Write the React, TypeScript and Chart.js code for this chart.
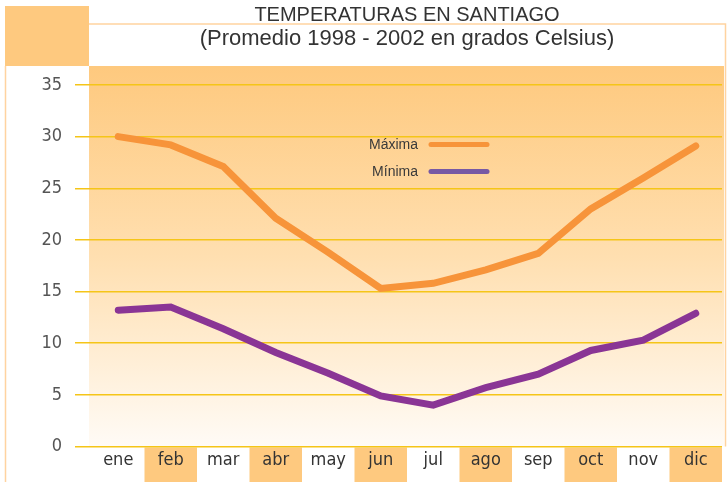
import React, { useEffect, useRef } from "react";
import { Chart, registerables } from "chart.js";

Chart.register(...registerables);

const months = ["ene", "feb", "mar", "abr", "may", "jun", "jul", "ago", "sep", "oct", "nov", "dic"];
const maxima = [30, 29.2, 27.1, 22.1, 18.8, 15.3, 15.8, 17.1, 18.7, 23.0, 26.0, 29.1];
const minima = [13.2, 13.5, 11.4, 9.1, 7.1, 4.9, 4.0, 5.7, 7.0, 9.3, 10.3, 12.9];
const seriesNames = ["Máxima", "Mínima"];
const titleText = "TEMPERATURAS EN SANTIAGO";
const subtitleText = "(Promedio 1998 - 2002 en grados Celsius)";

const ORANGE_FILL = "#FEC97F";
const LINE_MAX = "#F7943A";
const LINE_MIN = "#8A3595";
const LEGEND_MIN = "#7759A4";
const GRID = "#F5C518";
const NARROW = '"Liberation Sans Narrow", "DejaVu Sans Condensed", sans-serif';
const REGULAR = '"Liberation Sans", Arial, sans-serif';

const backgroundPlugin = {
  id: "bgDecor",
  beforeDraw(chart: any) {
    const { ctx, scales } = chart;
    const x = scales.x;
    const y = scales.y;
    const bottom = y.getPixelForValue(0);
    ctx.save();
    ctx.fillStyle = ORANGE_FILL;
    ctx.fillRect(5, 6, 84, 60);
    const g = ctx.createLinearGradient(0, 66, 0, bottom);
    g.addColorStop(0, "#FEC97E");
    g.addColorStop(0.5, "#FFDFB0");
    g.addColorStop(1, "#FFFBF6");
    ctx.fillStyle = g;
    ctx.fillRect(89, 66, 635, bottom - 66);
    const half = (x.getPixelForValue(1) - x.getPixelForValue(0)) / 2;
    ctx.fillStyle = ORANGE_FILL;
    months.forEach((_, i) => {
      if (i % 2 === 1) {
        const cx = x.getPixelForValue(i);
        ctx.fillRect(cx - half, bottom + 1, half * 2, chart.height - bottom - 1);
      }
    });
    ctx.strokeStyle = "#FFD3A0";
    ctx.lineWidth = 1.5;
    ctx.beginPath();
    ctx.moveTo(89, 24);
    ctx.lineTo(725.5, 24);
    ctx.lineTo(725.5, bottom);
    ctx.moveTo(5.5, 66);
    ctx.lineTo(5.5, chart.height);
    ctx.stroke();
    ctx.restore();
  },
};

const legendPlugin = {
  id: "customLegend",
  afterDatasetsDraw(chart: any) {
    const { ctx } = chart;
    const items = [
      { label: seriesNames[0], color: LINE_MAX, y: 144.5 },
      { label: seriesNames[1], color: LEGEND_MIN, y: 171.5 },
    ];
    ctx.save();
    ctx.font = `14px ${REGULAR}`;
    ctx.textAlign = "right";
    ctx.textBaseline = "middle";
    items.forEach((it) => {
      ctx.fillStyle = "#3a3a3a";
      ctx.fillText(it.label, 418, it.y + 0.5);
      ctx.strokeStyle = it.color;
      ctx.lineWidth = 5;
      ctx.lineCap = "round";
      ctx.beginPath();
      ctx.moveTo(431, it.y);
      ctx.lineTo(487, it.y);
      ctx.stroke();
    });
    ctx.restore();
  },
};

export default function App() {
  const ref = useRef<HTMLCanvasElement>(null);
  useEffect(() => {
    if (!ref.current) return;
    const chart = new Chart(ref.current, {
      type: "line",
      data: {
        labels: months,
        datasets: [
          {
            label: seriesNames[0],
            data: maxima,
            borderColor: LINE_MAX,
            backgroundColor: LINE_MAX,
            borderWidth: 7,
            borderCapStyle: "round",
            pointRadius: 0,
            tension: 0,
          },
          {
            label: seriesNames[1],
            data: minima,
            borderColor: LINE_MIN,
            backgroundColor: LINE_MIN,
            borderWidth: 7,
            borderCapStyle: "round",
            pointRadius: 0,
            tension: 0,
          },
        ],
      },
      options: {
        animation: false,
        responsive: false,
        maintainAspectRatio: false,
        layout: { padding: { left: 0, right: 6, top: 0, bottom: 0 } },
        plugins: {
          legend: { display: false },
          tooltip: { enabled: false },
          title: {
            display: true,
            text: titleText,
            fullSize: false,
            color: "#333",
            font: { family: REGULAR, size: 20, weight: "normal", lineHeight: 1.1 },
            padding: { top: 4, bottom: 0 },
          },
          subtitle: {
            display: true,
            text: subtitleText,
            fullSize: false,
            color: "#333",
            font: { family: REGULAR, size: 22, weight: "normal", lineHeight: 1.2 },
            padding: { top: 0, bottom: 32.6 },
          },
        },
        scales: {
          x: {
            type: "category",
            offset: true,
            grid: { display: false, drawTicks: false },
            border: { display: false },
            ticks: { color: "#333", padding: 3, font: { family: NARROW, size: 18 } },
            afterFit: (s: any) => {
              s.height = 35.5;
            },
          },
          y: {
            min: 0,
            max: 35,
            ticks: { stepSize: 5, color: "#555", padding: 13, font: { family: NARROW, size: 18 } },
            grid: { color: GRID, lineWidth: 1.5, tickLength: 17, drawTicks: true, tickColor: GRID },
            border: { display: false },
            afterFit: (s: any) => {
              s.width = 92;
            },
          },
        },
      },
      plugins: [backgroundPlugin, legendPlugin],
    } as any);
    return () => chart.destroy();
  }, []);
  return (
    <div style={{ position: "absolute", left: 0, top: 0, width: 728, height: 482, background: "#fff" }}>
      <canvas ref={ref} width={728} height={482} style={{ display: "block" }} />
    </div>
  );
}
